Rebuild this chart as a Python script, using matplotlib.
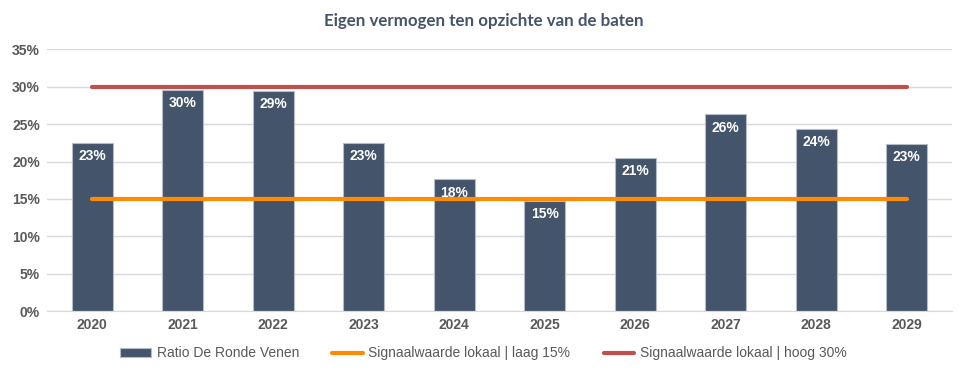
import matplotlib.pyplot as plt
from matplotlib.ticker import FuncFormatter

years = ["2020", "2021", "2022", "2023", "2024", "2025", "2026", "2027", "2028", "2029"]
ratio = [22.5, 29.6, 29.4, 22.5, 17.6, 14.7, 20.5, 26.3, 24.4, 22.4]
low_signal = [15] * len(years)
high_signal = [30] * len(years)
labels = ["23%", "30%", "29%", "23%", "18%", "15%", "21%", "26%", "24%", "23%"]

plt.rcParams["font.family"] = ["Liberation Sans", "DejaVu Sans"]

fig = plt.figure(figsize=(9.67, 3.74), dpi=100)
ax = fig.add_axes([0.0486, 0.1684, 0.9359, 0.6996])

x = list(range(len(years)))
bars = ax.bar(x, ratio, width=0.45, color="#44546A", edgecolor="#B4BCC8", linewidth=0.8,
              label="Ratio De Ronde Venen", zorder=2)
low_line, = ax.plot(x, low_signal, color="#FF8C00", linewidth=3, solid_capstyle="round",
                    label="Signaalwaarde lokaal | laag 15%", zorder=3)
high_line, = ax.plot(x, high_signal, color="#C0504D", linewidth=3, solid_capstyle="round",
                     label="Signaalwaarde lokaal | hoog 30%", zorder=3)

for xi, v, lab in zip(x, ratio, labels):
    ax.annotate(lab, (xi, v), xytext=(0, -9.5), textcoords="offset points",
                ha="center", va="center", color="white", fontweight="bold",
                fontsize=10, zorder=4)

ax.set_xlim(-0.5, len(years) - 0.5)
ax.set_ylim(0, 35)
ax.set_yticks(range(0, 36, 5))
ax.yaxis.set_major_formatter(FuncFormatter(lambda v, p: f"{v:.0f}%"))
ax.set_xticks(x)
ax.set_xticklabels(years)
ax.grid(axis="y", color="#D9D9D9", linewidth=1, zorder=0)
ax.set_axisbelow(True)
for s in ["top", "right", "left"]:
    ax.spines[s].set_visible(False)
ax.spines["bottom"].set_color("#D9D9D9")
ax.tick_params(length=0, colors="#595959", labelsize=10, pad=5)
for t in ax.get_xticklabels() + ax.get_yticklabels():
    t.set_fontweight("bold")

fig.text(0.5, 0.945, "Eigen vermogen ten opzichte van de baten", ha="center", va="center",
         fontsize=12.2, fontweight="bold", color="#44546A", family=["Lato", "DejaVu Sans"])

fig.legend(handles=[bars, low_line, high_line], loc="center", bbox_to_anchor=(0.5, 0.055),
           ncol=3, frameon=False, fontsize=10, labelcolor="#595959", handlelength=2.2,
           columnspacing=2.4, handletextpad=0.4)

fig.savefig("out.png", dpi=100)
